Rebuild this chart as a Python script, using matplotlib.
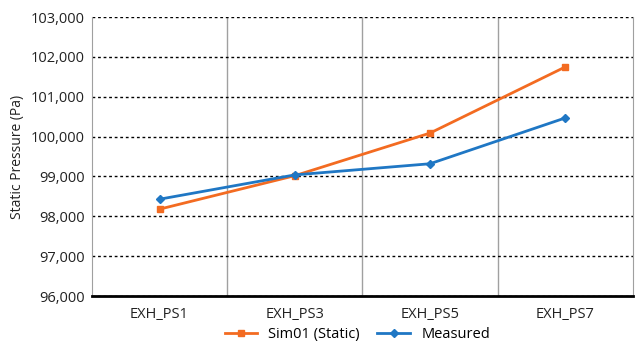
import matplotlib.pyplot as plt
from matplotlib.ticker import FuncFormatter

plt.rcParams['font.family'] = ['Open Sans', 'DejaVu Sans']

sensors = ['EXH_PS1', 'EXH_PS3', 'EXH_PS5', 'EXH_PS7']
sim01 = [98180, 99020, 100090, 101750]
measured = [98430, 99040, 99320, 100470]

fig = plt.figure(figsize=(6.38, 3.43), dpi=100)
ax = fig.add_axes([0.144, 0.137, 0.848, 0.813])

x = range(len(sensors))
ax.plot(x, sim01, color='#f36b21', lw=2, marker='s', ms=5, label='Sim01 (Static)', zorder=3)
ax.plot(x, measured, color='#1f77c4', lw=2, marker='D', ms=4, label='Measured', zorder=3)

ax.set_xlim(-0.5, 3.5)
ax.set_ylim(96000, 103000)
ax.set_yticks(range(96000, 103001, 1000))
ax.yaxis.set_major_formatter(FuncFormatter(lambda v, p: f'{int(v):,}'))
ax.set_xticks(list(x))
ax.set_xticklabels(sensors)
ax.set_xticks([0.5, 1.5, 2.5], minor=True)

# dotted horizontal grid, solid gray vertical separators
ax.grid(axis='y', which='major', ls=(0, (2, 2)), color='black', lw=1)
ax.grid(axis='x', which='minor', ls='-', color='#a0a0a0', lw=1)
ax.tick_params(axis='both', which='both', length=0, labelsize=10.5, colors='#222222')
ax.tick_params(axis='x', pad=8)
ax.tick_params(axis='y', pad=5)

for s in ['left', 'right']:
    ax.spines[s].set_color('#a0a0a0')
ax.spines['top'].set_visible(False)
ax.spines['bottom'].set_color('black')
ax.spines['bottom'].set_linewidth(2)

ax.set_ylabel('Static Pressure (Pa)', fontsize=10, color='#222222', labelpad=4)

fig.legend(loc='lower center', bbox_to_anchor=(0.56, -0.035), ncol=2, frameon=False,
           fontsize=10.5, handlelength=2.2, columnspacing=1.2)

fig.savefig('out.png', dpi=100)
